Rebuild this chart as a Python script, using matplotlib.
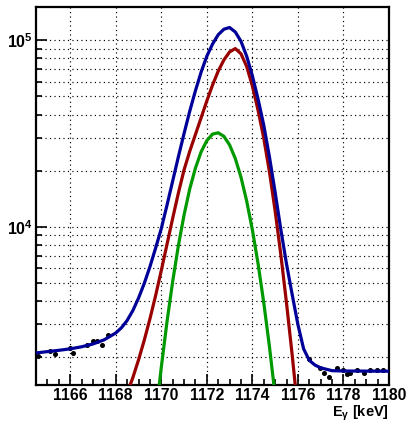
import numpy as np
import matplotlib
matplotlib.use("Agg")
import matplotlib.pyplot as plt
from matplotlib.ticker import FixedLocator, MultipleLocator, NullFormatter

plt.rcParams["font.family"] = ["Liberation Sans", "DejaVu Sans"]
plt.rcParams["mathtext.fontset"] = "custom"
plt.rcParams["mathtext.rm"] = "Liberation Sans:bold"
plt.rcParams["mathtext.bf"] = "Liberation Sans:bold"
plt.rcParams["mathtext.it"] = "Liberation Sans:bold"

# spectrum points (black markers)
data_e = [1164.60, 1165.11, 1165.33, 1166.00, 1166.14, 1166.73, 1167.02, 1167.16, 1167.38, 1167.67,
          1176.47, 1176.98, 1177.13, 1177.35, 1177.71, 1178.00, 1178.15, 1178.30, 1178.59, 1178.88,
          1179.18, 1179.47, 1179.75]
data_counts = [2027, 2148, 2065, 2249, 2109, 2323, 2434, 2434, 2333, 2641,
               1941, 1751, 1648, 1567, 1751, 1714, 1613, 1633, 1714, 1648,
               1714, 1701, 1714]

# total fit (blue)
total_e = [1164.5, 1165.0, 1165.5, 1166.0, 1166.5, 1167.0, 1167.5, 1168.0, 1168.25, 1168.5,
           1168.75, 1169.0, 1169.25, 1169.5, 1169.75, 1170.0, 1170.25, 1170.5, 1170.75, 1171.0,
           1171.25, 1171.5, 1171.75, 1172.0, 1172.25, 1172.5, 1172.75, 1173.0, 1173.25, 1173.5,
           1173.75, 1174.0, 1174.25, 1174.5, 1174.75, 1175.0, 1175.25, 1175.5, 1175.75, 1176.0,
           1176.25, 1176.5, 1176.75, 1177.0, 1177.5, 1178.0, 1180.0]
total_counts = [2104, 2138, 2173, 2213, 2270, 2350, 2477, 2692, 2871, 3141,
                3548, 4140, 4955, 6095, 7674, 9772, 13030, 17580, 23710, 31620,
                41690, 53700, 67610, 82220, 95500, 107200, 114800, 117200, 110900, 98850,
                82220, 64570, 48420, 35080, 23710, 15310, 9661, 6310, 4315, 2985,
                2213, 1919, 1811, 1750, 1690, 1683, 1679]

# first component (red)
red_e = [1168.6, 1168.75, 1169.0, 1169.25, 1169.5, 1169.75, 1170.0, 1170.25, 1170.5, 1170.75,
         1171.0, 1171.25, 1171.5, 1171.75, 1172.0, 1172.25, 1172.5, 1172.75, 1173.0, 1173.25,
         1173.5, 1173.75, 1174.0, 1174.25, 1174.5, 1174.75, 1175.0, 1175.25, 1175.5, 1175.75,
         1176.0]
red_counts = [1380, 1549, 1928, 2455, 3199, 4266, 5821, 8035, 11090, 15140,
              20180, 25410, 31260, 38460, 47320, 57540, 68390, 78520, 86700, 90360,
              84720, 72440, 56890, 42170, 29850, 19720, 12160, 7079, 3890, 2042,
              1023]

# second component (green)
green_e = [1169.875, 1170.0, 1170.25, 1170.5, 1170.75, 1171.0, 1171.25, 1171.5, 1171.75, 1172.0,
           1172.25, 1172.5, 1172.75, 1173.0, 1173.25, 1173.5, 1173.75, 1174.0, 1174.25, 1174.5,
           1174.75, 1175.0]
green_counts = [1294, 1758, 3083, 5082, 7907, 11560, 15960, 20650, 25230, 28970,
                31410, 31920, 30550, 27480, 23230, 18450, 13740, 9638, 6339, 3917,
                2275, 1242]

fig = plt.figure(figsize=(4.07, 4.22), dpi=100)
ax = fig.add_axes([0.0885, 0.0877, 0.8673, 0.8957])

ax.plot(data_e, data_counts, "o", color="black", ms=2.6, zorder=2)
ax.plot(green_e, green_counts, color="#009900", lw=2.3, zorder=3)
ax.plot(red_e, red_counts, color="#990000", lw=2.3, zorder=3)
ax.plot(total_e, total_counts, color="#000099", lw=2.3, zorder=4)

ax.set_yscale("log")
ax.set_xlim(1164.5, 1180)
ax.set_ylim(1416, 1.51e5)

ax.xaxis.set_major_locator(MultipleLocator(2))
ax.xaxis.set_minor_locator(MultipleLocator(0.5))
ax.yaxis.set_major_locator(FixedLocator([1e4, 1e5]))
minors = [m * 10 ** d for d in (3, 4, 5) for m in range(2, 10)]
ax.yaxis.set_minor_locator(FixedLocator(minors))
ax.yaxis.set_minor_formatter(NullFormatter())
ax.set_yticklabels([r"$\mathbf{10^{4}}$", r"$\mathbf{10^{5}}$"])

gkw = dict(color="black", linestyle=(0, (1, 2.8)), linewidth=0.85)
ax.grid(True, which="major", axis="x", **gkw)
ax.grid(True, which="both", axis="y", **gkw)
ax.set_axisbelow(True)

ax.tick_params(which="both", direction="in", top=False, right=False, width=1.2)
ax.tick_params(which="major", length=8)
ax.tick_params(which="minor", length=4)
ax.tick_params(axis="x", labelsize=11.3, pad=2.5)
ax.tick_params(axis="y", labelsize=11.5, pad=2)
for lab in ax.get_xticklabels():
    lab.set_fontweight("bold")
for sp in ax.spines.values():
    sp.set_linewidth(1.6)

ax.text(1.0, -0.0835, r"E$_{\gamma}$ [keV]", transform=ax.transAxes, ha="right", va="baseline",
        fontsize=10.5, fontweight="bold", family=["Liberation Sans", "DejaVu Sans"])

fig.savefig("out.png", dpi=100)
